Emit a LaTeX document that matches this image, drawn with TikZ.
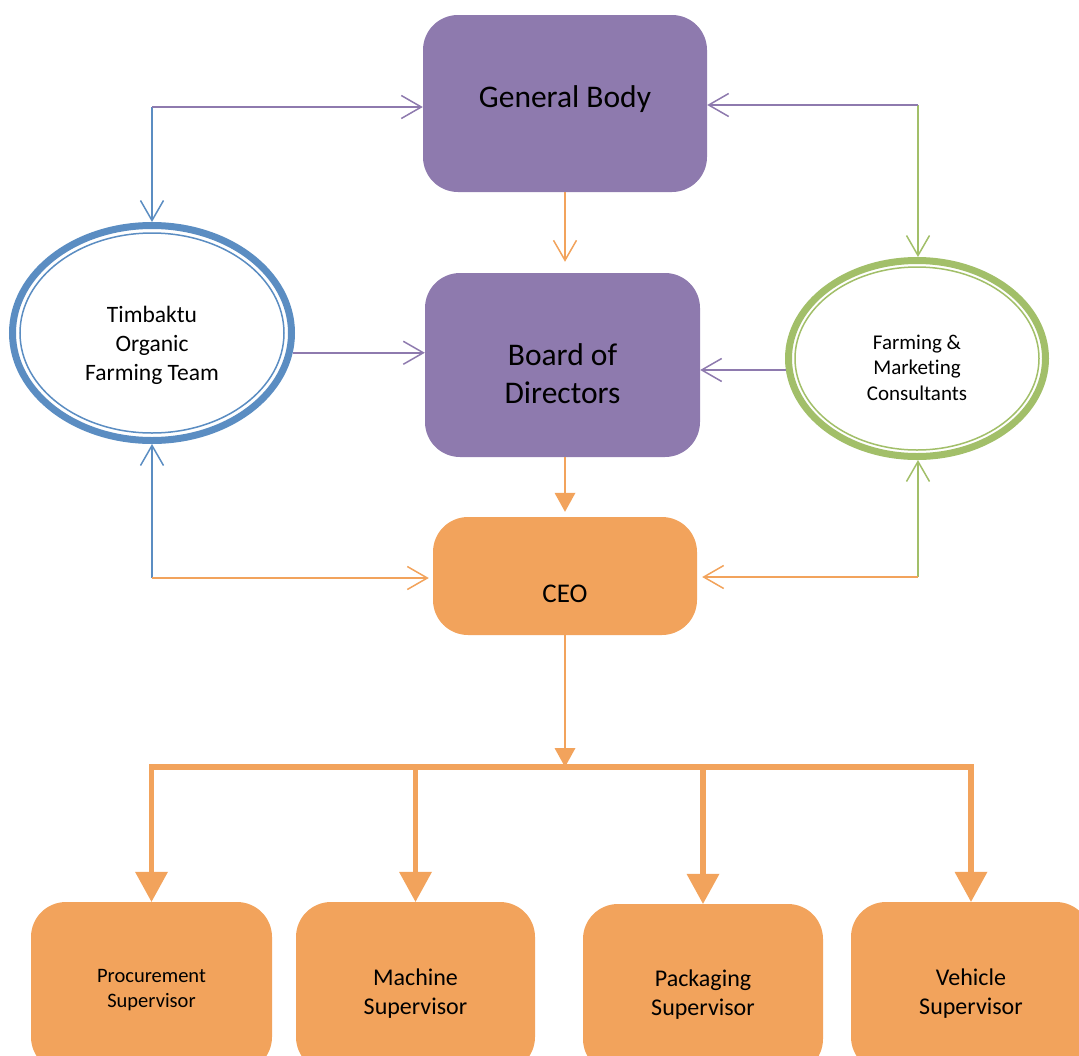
\documentclass[tikz,border=0pt]{standalone}
\usepackage{fontspec}
\setmainfont{Carlito}[Ligatures=NoCommon]
\usetikzlibrary{arrows.meta,shapes.geometric,calc}
\definecolor{pur}{HTML}{8E7AAE}
\definecolor{org}{HTML}{F2A35C}
\definecolor{blu}{HTML}{5B8DC2}
\definecolor{grn}{HTML}{A2BF69}
\newcommand\myshift[2]{\vphantom{#2}\smash{\raisebox{#1}{#2}}}
\begin{document}
\begin{tikzpicture}[x=1pt,y=-1pt,
  box/.style={rounded corners=35pt, inner sep=0pt, align=center, text=black},
  oval/.style={ellipse, inner sep=0pt, align=center, line width=7pt, fill=white},
  vtip/.style={-{Straight Barb[length=20pt,width=23pt]}},
  ftip/.style={-{Triangle[length=19pt,width=21pt,line width=0pt 0]}},
  btip/.style={-{Triangle[length=30pt,width=33pt,line width=0pt 0]}},
  pline/.style={draw=pur, line width=1.5pt},
  oline/.style={draw=org, line width=1.5pt},
  bline/.style={draw=blu, line width=1.5pt},
  gline/.style={draw=grn, line width=1.5pt},
  obus/.style={draw=org, line width=5.5pt}]
\useasboundingbox (0,0) rectangle (1079,1055);

% main boxes
\node[box, fill=pur, minimum width=284pt, minimum height=177pt] (gb) at (565,103.5)
  {\fontsize{31.5}{38}\selectfont\myshift{4pt}{General Body}};
\node[box, fill=pur, minimum width=275pt, minimum height=184pt] (bd) at (562.5,365)
  {\fontsize{31.5}{38}\selectfont\myshift{-12pt}{\begin{tabular}{@{}c@{}}Board of\\Directors\end{tabular}}};
\node[box, fill=org, minimum width=264pt, minimum height=118pt] (ceo) at (565,576)
  {\fontsize{27}{33}\selectfont\myshift{-18pt}{CEO}};

% ellipses
\node[oval, draw=blu, minimum width=279pt, minimum height=215pt] (tm) at (152,333)
  {\fontsize{23.5}{29}\selectfont\myshift{-13pt}{\begin{tabular}{@{}c@{}}Timbaktu\\Organic\\Farming Team\end{tabular}}};
\draw[blu, line width=1.5pt] (tm.center) ellipse [x radius=132, y radius=100];
\node[oval, draw=grn, minimum width=257pt, minimum height=196pt] (fm) at (917,358.5)
  {\fontsize{21}{25.5}\selectfont\myshift{-11pt}{\begin{tabular}{@{}c@{}}Farming \&\\Marketing\\Consultants\end{tabular}}};
\draw[grn, line width=1.5pt] (fm.center) ellipse [x radius=122, y radius=91.5];

% bottom boxes
\node[box, fill=org, minimum width=241pt, minimum height=170pt] (ps) at (151.5,987)
  {\fontsize{20.5}{25}\selectfont\myshift{-3pt}{\begin{tabular}{@{}c@{}}Procurement\\Supervisor\end{tabular}}};
\node[box, fill=org, minimum width=239pt, minimum height=170pt] (ms) at (415.5,987)
  {\fontsize{24}{29}\selectfont\myshift{-7pt}{\begin{tabular}{@{}c@{}}Machine\\Supervisor\end{tabular}}};
\node[box, fill=org, minimum width=240pt, minimum height=170pt] (ks) at (703,989)
  {\fontsize{24}{29}\selectfont\myshift{-6pt}{\begin{tabular}{@{}c@{}}Packaging\\Supervisor\end{tabular}}};
\node[box, fill=org, minimum width=240pt, minimum height=170pt] (vs) at (971,987)
  {\fontsize{24}{29}\selectfont\myshift{-7pt}{\begin{tabular}{@{}c@{}}Vehicle\\Supervisor\end{tabular}}};

% top corner connectors
\coordinate (lt) at (152,107);
\coordinate (rt) at (918,105);
\draw[bline, vtip] (lt) -- (tm.north);
\draw[pline, vtip] (lt) -- (lt -| gb.west);
\draw[gline, vtip] (rt) -- (rt |- fm.north);
\draw[pline, vtip] (rt) -- (rt -| gb.east);

% general body -> board
\draw[oline, vtip] (gb.south) -- ($(gb.south |- bd.north)+(0,-11)$);

% ellipses -> board
\draw[pline, vtip] (tm.-8) -- (tm.-8 -| bd.west);
\draw[pline, vtip] (fm.185) -- (fm.185 -| bd.east);

% board -> ceo
\draw[oline, ftip] (ceo.north |- bd.south) -- ($(ceo.north)+(0,-5)$);

% bottom corner connectors
\coordinate (lb) at (152,578);
\coordinate (rb) at (918,577);
\draw[bline, vtip] (lb) -- (tm.south);
\draw[oline, vtip] (lb) -- ($(lb -| ceo.west)+(-4,0)$);
\draw[gline, vtip] (rb) -- (rb |- fm.south);
\draw[oline, vtip] (rb) -- ($(rb -| ceo.east)+(5,0)$);

% ceo -> bus
\coordinate (bus) at (565,767);
\draw[oline, ftip] (ceo.south) -- (bus);
\draw[obus, line cap=rect] (ps.north |- bus) -- (vs.north |- bus);
\draw[obus, btip] (ps.north |- bus) -- (ps.north);
\draw[obus, btip] (ms.north |- bus) -- (ms.north);
\draw[obus, btip] (ks.north |- bus) -- (ks.north);
\draw[obus, btip] (vs.north |- bus) -- (vs.north);
\end{tikzpicture}
\end{document}
